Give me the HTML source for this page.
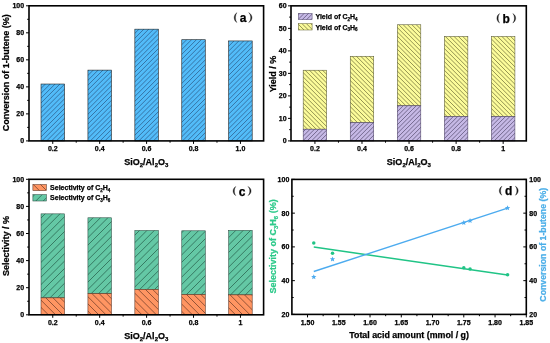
<!DOCTYPE html><html><head><meta charset="utf-8"><style>html,body{margin:0;padding:0;background:#fff;}svg{display:block;will-change:transform;}text{font-family:"Liberation Sans",sans-serif;stroke-width:0.25px;}</style></head><body>
<svg width="550" height="343" viewBox="0 0 550 343">
<rect width="550" height="343" fill="#fff"/>
<clipPath id="c1"><rect x="41.01" y="84.02" width="23.50" height="56.88"/></clipPath>
<rect x="41.01" y="84.02" width="23.50" height="56.88" fill="#52BCF9"/>
<path clip-path="url(#c1)" d="M-17.35 141.90L41.53 83.02M-12.50 141.90L46.38 83.02M-7.65 141.90L51.23 83.02M-2.80 141.90L56.08 83.02M2.05 141.90L60.93 83.02M6.90 141.90L65.78 83.02M11.75 141.90L70.63 83.02M16.60 141.90L75.48 83.02M21.45 141.90L80.33 83.02M26.30 141.90L85.18 83.02M31.15 141.90L90.03 83.02M36.00 141.90L94.88 83.02M40.85 141.90L99.73 83.02M45.70 141.90L104.58 83.02M50.55 141.90L109.43 83.02M55.40 141.90L114.28 83.02M60.25 141.90L119.13 83.02M65.10 141.90L123.98 83.02" stroke="#336c9c" stroke-width="0.9" fill="none"/>
<rect x="41.01" y="84.02" width="23.50" height="56.88" fill="none" stroke="#222" stroke-width="0.6"/>
<clipPath id="c2"><rect x="87.93" y="70.11" width="23.50" height="70.79"/></clipPath>
<rect x="87.93" y="70.11" width="23.50" height="70.79" fill="#52BCF9"/>
<path clip-path="url(#c2)" d="M11.75 141.90L84.54 69.11M16.60 141.90L89.39 69.11M21.45 141.90L94.24 69.11M26.30 141.90L99.09 69.11M31.15 141.90L103.94 69.11M36.00 141.90L108.79 69.11M40.85 141.90L113.64 69.11M45.70 141.90L118.49 69.11M50.55 141.90L123.34 69.11M55.40 141.90L128.19 69.11M60.25 141.90L133.04 69.11M65.10 141.90L137.89 69.11M69.95 141.90L142.74 69.11M74.80 141.90L147.59 69.11M79.65 141.90L152.44 69.11M84.50 141.90L157.29 69.11M89.35 141.90L162.14 69.11M94.20 141.90L166.99 69.11M99.05 141.90L171.84 69.11M103.90 141.90L176.69 69.11M108.75 141.90L181.54 69.11M113.60 141.90L186.39 69.11" stroke="#336c9c" stroke-width="0.9" fill="none"/>
<rect x="87.93" y="70.11" width="23.50" height="70.79" fill="none" stroke="#222" stroke-width="0.6"/>
<clipPath id="c3"><rect x="134.85" y="29.17" width="23.50" height="111.73"/></clipPath>
<rect x="134.85" y="29.17" width="23.50" height="111.73" fill="#52BCF9"/>
<path clip-path="url(#c3)" d="M21.45 141.90L135.18 28.17M26.30 141.90L140.03 28.17M31.15 141.90L144.88 28.17M36.00 141.90L149.73 28.17M40.85 141.90L154.58 28.17M45.70 141.90L159.43 28.17M50.55 141.90L164.28 28.17M55.40 141.90L169.13 28.17M60.25 141.90L173.98 28.17M65.10 141.90L178.83 28.17M69.95 141.90L183.68 28.17M74.80 141.90L188.53 28.17M79.65 141.90L193.38 28.17M84.50 141.90L198.23 28.17M89.35 141.90L203.08 28.17M94.20 141.90L207.93 28.17M99.05 141.90L212.78 28.17M103.90 141.90L217.63 28.17M108.75 141.90L222.48 28.17M113.60 141.90L227.33 28.17M118.45 141.90L232.18 28.17M123.30 141.90L237.03 28.17M128.15 141.90L241.88 28.17M133.00 141.90L246.73 28.17M137.85 141.90L251.58 28.17M142.70 141.90L256.43 28.17M147.55 141.90L261.28 28.17M152.40 141.90L266.13 28.17M157.25 141.90L270.98 28.17M162.10 141.90L275.83 28.17" stroke="#336c9c" stroke-width="0.9" fill="none"/>
<rect x="134.85" y="29.17" width="23.50" height="111.73" fill="none" stroke="#222" stroke-width="0.6"/>
<clipPath id="c4"><rect x="181.77" y="39.71" width="23.50" height="101.19"/></clipPath>
<rect x="181.77" y="39.71" width="23.50" height="101.19" fill="#52BCF9"/>
<path clip-path="url(#c4)" d="M74.80 141.90L177.99 38.71M79.65 141.90L182.84 38.71M84.50 141.90L187.69 38.71M89.35 141.90L192.54 38.71M94.20 141.90L197.39 38.71M99.05 141.90L202.24 38.71M103.90 141.90L207.09 38.71M108.75 141.90L211.94 38.71M113.60 141.90L216.79 38.71M118.45 141.90L221.64 38.71M123.30 141.90L226.49 38.71M128.15 141.90L231.34 38.71M133.00 141.90L236.19 38.71M137.85 141.90L241.04 38.71M142.70 141.90L245.89 38.71M147.55 141.90L250.74 38.71M152.40 141.90L255.59 38.71M157.25 141.90L260.44 38.71M162.10 141.90L265.29 38.71M166.95 141.90L270.14 38.71M171.80 141.90L274.99 38.71M176.65 141.90L279.84 38.71M181.50 141.90L284.69 38.71M186.35 141.90L289.54 38.71M191.20 141.90L294.39 38.71M196.05 141.90L299.24 38.71M200.90 141.90L304.09 38.71M205.75 141.90L308.94 38.71" stroke="#336c9c" stroke-width="0.9" fill="none"/>
<rect x="181.77" y="39.71" width="23.50" height="101.19" fill="none" stroke="#222" stroke-width="0.6"/>
<clipPath id="c5"><rect x="228.69" y="40.93" width="23.50" height="99.97"/></clipPath>
<rect x="228.69" y="40.93" width="23.50" height="99.97" fill="#52BCF9"/>
<path clip-path="url(#c5)" d="M123.30 141.90L225.27 39.93M128.15 141.90L230.12 39.93M133.00 141.90L234.97 39.93M137.85 141.90L239.82 39.93M142.70 141.90L244.67 39.93M147.55 141.90L249.52 39.93M152.40 141.90L254.37 39.93M157.25 141.90L259.22 39.93M162.10 141.90L264.07 39.93M166.95 141.90L268.92 39.93M171.80 141.90L273.77 39.93M176.65 141.90L278.62 39.93M181.50 141.90L283.47 39.93M186.35 141.90L288.32 39.93M191.20 141.90L293.17 39.93M196.05 141.90L298.02 39.93M200.90 141.90L302.87 39.93M205.75 141.90L307.72 39.93M210.60 141.90L312.57 39.93M215.45 141.90L317.42 39.93M220.30 141.90L322.27 39.93M225.15 141.90L327.12 39.93M230.00 141.90L331.97 39.93M234.85 141.90L336.82 39.93M239.70 141.90L341.67 39.93M244.55 141.90L346.52 39.93M249.40 141.90L351.37 39.93M254.25 141.90L356.22 39.93" stroke="#336c9c" stroke-width="0.9" fill="none"/>
<rect x="228.69" y="40.93" width="23.50" height="99.97" fill="none" stroke="#222" stroke-width="0.6"/>
<rect x="29" y="5.8" width="234.60000000000002" height="135.1" fill="none" stroke="#000" stroke-width="1.6"/>
<line x1="29" y1="140.90" x2="26.00" y2="140.90" stroke="#000" stroke-width="1.0"/>
<text x="24.10" y="143.35" font-size="7" font-weight="bold" text-anchor="end" fill="#000" stroke="#000" >0</text>
<line x1="29" y1="127.39" x2="27.20" y2="127.39" stroke="#000" stroke-width="1.0"/>
<line x1="29" y1="113.88" x2="26.00" y2="113.88" stroke="#000" stroke-width="1.0"/>
<text x="24.10" y="116.33" font-size="7" font-weight="bold" text-anchor="end" fill="#000" stroke="#000" >20</text>
<line x1="29" y1="100.37" x2="27.20" y2="100.37" stroke="#000" stroke-width="1.0"/>
<line x1="29" y1="86.86" x2="26.00" y2="86.86" stroke="#000" stroke-width="1.0"/>
<text x="24.10" y="89.31" font-size="7" font-weight="bold" text-anchor="end" fill="#000" stroke="#000" >40</text>
<line x1="29" y1="73.35" x2="27.20" y2="73.35" stroke="#000" stroke-width="1.0"/>
<line x1="29" y1="59.84" x2="26.00" y2="59.84" stroke="#000" stroke-width="1.0"/>
<text x="24.10" y="62.29" font-size="7" font-weight="bold" text-anchor="end" fill="#000" stroke="#000" >60</text>
<line x1="29" y1="46.33" x2="27.20" y2="46.33" stroke="#000" stroke-width="1.0"/>
<line x1="29" y1="32.82" x2="26.00" y2="32.82" stroke="#000" stroke-width="1.0"/>
<text x="24.10" y="35.27" font-size="7" font-weight="bold" text-anchor="end" fill="#000" stroke="#000" >80</text>
<line x1="29" y1="19.31" x2="27.20" y2="19.31" stroke="#000" stroke-width="1.0"/>
<line x1="29" y1="5.80" x2="26.00" y2="5.80" stroke="#000" stroke-width="1.0"/>
<text x="24.10" y="8.25" font-size="7" font-weight="bold" text-anchor="end" fill="#000" stroke="#000" >100</text>
<line x1="52.76" y1="140.9" x2="52.76" y2="143.9" stroke="#000" stroke-width="1.0"/>
<text x="52.76" y="151" font-size="7" font-weight="bold" text-anchor="middle" fill="#000" stroke="#000" >0.2</text>
<line x1="99.68" y1="140.9" x2="99.68" y2="143.9" stroke="#000" stroke-width="1.0"/>
<text x="99.68" y="151" font-size="7" font-weight="bold" text-anchor="middle" fill="#000" stroke="#000" >0.4</text>
<line x1="76.22" y1="140.9" x2="76.22" y2="142.70000000000002" stroke="#000" stroke-width="1.0"/>
<line x1="146.60" y1="140.9" x2="146.60" y2="143.9" stroke="#000" stroke-width="1.0"/>
<text x="146.60" y="151" font-size="7" font-weight="bold" text-anchor="middle" fill="#000" stroke="#000" >0.6</text>
<line x1="123.14" y1="140.9" x2="123.14" y2="142.70000000000002" stroke="#000" stroke-width="1.0"/>
<line x1="193.52" y1="140.9" x2="193.52" y2="143.9" stroke="#000" stroke-width="1.0"/>
<text x="193.52" y="151" font-size="7" font-weight="bold" text-anchor="middle" fill="#000" stroke="#000" >0.8</text>
<line x1="170.06" y1="140.9" x2="170.06" y2="142.70000000000002" stroke="#000" stroke-width="1.0"/>
<line x1="240.44" y1="140.9" x2="240.44" y2="143.9" stroke="#000" stroke-width="1.0"/>
<text x="240.44" y="151" font-size="7" font-weight="bold" text-anchor="middle" fill="#000" stroke="#000" >1.0</text>
<line x1="216.98" y1="140.9" x2="216.98" y2="142.70000000000002" stroke="#000" stroke-width="1.0"/>
<text x="146.3" y="165.2" font-size="9" font-weight="bold" text-anchor="middle" fill="#000" stroke="#000" >SiO<tspan font-size="6" dy="1.9">2</tspan><tspan dy="-1.9">&#8203;</tspan>/Al<tspan font-size="6" dy="1.9">2</tspan><tspan dy="-1.9">&#8203;</tspan>O<tspan font-size="6" dy="1.9">3</tspan><tspan dy="-1.9">&#8203;</tspan></text>
<text transform="translate(9.3,72.7) rotate(-90)" font-size="9" font-weight="bold" text-anchor="middle" stroke="#000">Conversion of 1-butene (%)</text>
<path d="M236.90 12.70C233.30 14.86 233.30 20.34 236.90 22.50C235.00 20.34 235.00 14.86 236.90 12.70Z" fill="#1a1a1a" stroke="#1a1a1a" stroke-width="0.35"/>
<path d="M248.70 12.70C253.10 14.86 253.10 20.34 248.70 22.50C251.40 20.34 251.40 14.86 248.70 12.70Z" fill="#1a1a1a" stroke="#1a1a1a" stroke-width="0.35"/>
<text x="243.05" y="21.8" font-size="12" font-weight="bold" text-anchor="middle" stroke="#000" stroke-width="0.15">a</text>
<clipPath id="c6"><rect x="303.18" y="70.22" width="23.50" height="58.97"/></clipPath>
<rect x="303.18" y="70.22" width="23.50" height="58.97" fill="#FCFC9A"/>
<path clip-path="url(#c6)" d="M238.87 69.22L299.85 130.20M243.22 69.22L304.20 130.20M247.57 69.22L308.55 130.20M251.92 69.22L312.90 130.20M256.27 69.22L317.25 130.20M260.62 69.22L321.60 130.20M264.97 69.22L325.95 130.20M269.32 69.22L330.30 130.20M273.67 69.22L334.65 130.20M278.02 69.22L339.00 130.20M282.37 69.22L343.35 130.20M286.72 69.22L347.70 130.20M291.07 69.22L352.05 130.20M295.42 69.22L356.40 130.20M299.77 69.22L360.75 130.20M304.12 69.22L365.10 130.20M308.47 69.22L369.45 130.20M312.82 69.22L373.80 130.20M317.17 69.22L378.15 130.20M321.52 69.22L382.50 130.20M325.87 69.22L386.85 130.20" stroke="#7f7f45" stroke-width="0.85" fill="none"/>
<rect x="303.18" y="70.22" width="23.50" height="58.97" fill="none" stroke="#55553a" stroke-width="0.55"/>
<clipPath id="c7"><rect x="303.18" y="129.20" width="23.50" height="11.70"/></clipPath>
<rect x="303.18" y="129.20" width="23.50" height="11.70" fill="#C6B9E6"/>
<path clip-path="url(#c7)" d="M288.75 141.90L302.45 128.20M293.10 141.90L306.80 128.20M297.45 141.90L311.15 128.20M301.80 141.90L315.50 128.20M306.15 141.90L319.85 128.20M310.50 141.90L324.20 128.20M314.85 141.90L328.55 128.20M319.20 141.90L332.90 128.20M323.55 141.90L337.25 128.20M327.90 141.90L341.60 128.20" stroke="#5f5578" stroke-width="0.8" fill="none"/>
<rect x="303.18" y="129.20" width="23.50" height="11.70" fill="none" stroke="#4a4060" stroke-width="0.55"/>
<clipPath id="c8"><rect x="350.24" y="56.27" width="23.50" height="66.40"/></clipPath>
<rect x="350.24" y="56.27" width="23.50" height="66.40" fill="#FCFC9A"/>
<path clip-path="url(#c8)" d="M281.47 55.27L349.87 123.67M285.82 55.27L354.22 123.67M290.17 55.27L358.57 123.67M294.52 55.27L362.92 123.67M298.87 55.27L367.27 123.67M303.22 55.27L371.62 123.67M307.57 55.27L375.97 123.67M311.92 55.27L380.32 123.67M316.27 55.27L384.67 123.67M320.62 55.27L389.02 123.67M324.97 55.27L393.37 123.67M329.32 55.27L397.72 123.67M333.67 55.27L402.07 123.67M338.02 55.27L406.42 123.67M342.37 55.27L410.77 123.67M346.72 55.27L415.12 123.67M351.07 55.27L419.47 123.67M355.42 55.27L423.82 123.67M359.77 55.27L428.17 123.67M364.12 55.27L432.52 123.67M368.47 55.27L436.87 123.67M372.82 55.27L441.22 123.67" stroke="#7f7f45" stroke-width="0.85" fill="none"/>
<rect x="350.24" y="56.27" width="23.50" height="66.40" fill="none" stroke="#55553a" stroke-width="0.55"/>
<clipPath id="c9"><rect x="350.24" y="122.67" width="23.50" height="18.23"/></clipPath>
<rect x="350.24" y="122.67" width="23.50" height="18.23" fill="#C6B9E6"/>
<path clip-path="url(#c9)" d="M327.90 141.90L348.13 121.67M332.25 141.90L352.48 121.67M336.60 141.90L356.83 121.67M340.95 141.90L361.18 121.67M345.30 141.90L365.53 121.67M349.65 141.90L369.88 121.67M354.00 141.90L374.23 121.67M358.35 141.90L378.58 121.67M362.70 141.90L382.93 121.67M367.05 141.90L387.28 121.67M371.40 141.90L391.63 121.67M375.75 141.90L395.98 121.67" stroke="#5f5578" stroke-width="0.8" fill="none"/>
<rect x="350.24" y="122.67" width="23.50" height="18.23" fill="none" stroke="#4a4060" stroke-width="0.55"/>
<clipPath id="c10"><rect x="397.30" y="24.76" width="23.50" height="81.03"/></clipPath>
<rect x="397.30" y="24.76" width="23.50" height="81.03" fill="#FCFC9A"/>
<path clip-path="url(#c10)" d="M315.21 23.76L398.24 106.79M319.56 23.76L402.59 106.79M323.91 23.76L406.94 106.79M328.26 23.76L411.29 106.79M332.61 23.76L415.64 106.79M336.96 23.76L419.99 106.79M341.31 23.76L424.34 106.79M345.66 23.76L428.69 106.79M350.01 23.76L433.04 106.79M354.36 23.76L437.39 106.79M358.71 23.76L441.74 106.79M363.06 23.76L446.09 106.79M367.41 23.76L450.44 106.79M371.76 23.76L454.79 106.79M376.11 23.76L459.14 106.79M380.46 23.76L463.49 106.79M384.81 23.76L467.84 106.79M389.16 23.76L472.19 106.79M393.51 23.76L476.54 106.79M397.86 23.76L480.89 106.79M402.21 23.76L485.24 106.79M406.56 23.76L489.59 106.79M410.91 23.76L493.94 106.79M415.26 23.76L498.29 106.79M419.61 23.76L502.64 106.79M423.96 23.76L506.99 106.79" stroke="#7f7f45" stroke-width="0.85" fill="none"/>
<rect x="397.30" y="24.76" width="23.50" height="81.03" fill="none" stroke="#55553a" stroke-width="0.55"/>
<clipPath id="c11"><rect x="397.30" y="105.79" width="23.50" height="35.11"/></clipPath>
<rect x="397.30" y="105.79" width="23.50" height="35.11" fill="#C6B9E6"/>
<path clip-path="url(#c11)" d="M358.35 141.90L395.46 104.79M362.70 141.90L399.81 104.79M367.05 141.90L404.16 104.79M371.40 141.90L408.51 104.79M375.75 141.90L412.86 104.79M380.10 141.90L417.21 104.79M384.45 141.90L421.56 104.79M388.80 141.90L425.91 104.79M393.15 141.90L430.26 104.79M397.50 141.90L434.61 104.79M401.85 141.90L438.96 104.79M406.20 141.90L443.31 104.79M410.55 141.90L447.66 104.79M414.90 141.90L452.01 104.79M419.25 141.90L456.36 104.79M423.60 141.90L460.71 104.79" stroke="#5f5578" stroke-width="0.8" fill="none"/>
<rect x="397.30" y="105.79" width="23.50" height="35.11" fill="none" stroke="#4a4060" stroke-width="0.55"/>
<clipPath id="c12"><rect x="444.36" y="36.46" width="23.50" height="80.13"/></clipPath>
<rect x="444.36" y="36.46" width="23.50" height="80.13" fill="#FCFC9A"/>
<path clip-path="url(#c12)" d="M361.71 35.46L443.84 117.59M366.06 35.46L448.19 117.59M370.41 35.46L452.54 117.59M374.76 35.46L456.89 117.59M379.11 35.46L461.24 117.59M383.46 35.46L465.59 117.59M387.81 35.46L469.94 117.59M392.16 35.46L474.29 117.59M396.51 35.46L478.64 117.59M400.86 35.46L482.99 117.59M405.21 35.46L487.34 117.59M409.56 35.46L491.69 117.59M413.91 35.46L496.04 117.59M418.26 35.46L500.39 117.59M422.61 35.46L504.74 117.59M426.96 35.46L509.09 117.59M431.31 35.46L513.44 117.59M435.66 35.46L517.79 117.59M440.01 35.46L522.14 117.59M444.36 35.46L526.49 117.59M448.71 35.46L530.84 117.59M453.06 35.46L535.19 117.59M457.41 35.46L539.54 117.59M461.76 35.46L543.89 117.59M466.11 35.46L548.24 117.59M470.46 35.46L552.59 117.59" stroke="#7f7f45" stroke-width="0.85" fill="none"/>
<rect x="444.36" y="36.46" width="23.50" height="80.13" fill="none" stroke="#55553a" stroke-width="0.55"/>
<clipPath id="c13"><rect x="444.36" y="116.59" width="23.50" height="24.31"/></clipPath>
<rect x="444.36" y="116.59" width="23.50" height="24.31" fill="#C6B9E6"/>
<path clip-path="url(#c13)" d="M414.90 141.90L441.21 115.59M419.25 141.90L445.56 115.59M423.60 141.90L449.91 115.59M427.95 141.90L454.26 115.59M432.30 141.90L458.61 115.59M436.65 141.90L462.96 115.59M441.00 141.90L467.31 115.59M445.35 141.90L471.66 115.59M449.70 141.90L476.01 115.59M454.05 141.90L480.36 115.59M458.40 141.90L484.71 115.59M462.75 141.90L489.06 115.59M467.10 141.90L493.41 115.59" stroke="#5f5578" stroke-width="0.8" fill="none"/>
<rect x="444.36" y="116.59" width="23.50" height="24.31" fill="none" stroke="#4a4060" stroke-width="0.55"/>
<clipPath id="c14"><rect x="491.42" y="36.46" width="23.50" height="80.13"/></clipPath>
<rect x="491.42" y="36.46" width="23.50" height="80.13" fill="#FCFC9A"/>
<path clip-path="url(#c14)" d="M409.56 35.46L491.69 117.59M413.91 35.46L496.04 117.59M418.26 35.46L500.39 117.59M422.61 35.46L504.74 117.59M426.96 35.46L509.09 117.59M431.31 35.46L513.44 117.59M435.66 35.46L517.79 117.59M440.01 35.46L522.14 117.59M444.36 35.46L526.49 117.59M448.71 35.46L530.84 117.59M453.06 35.46L535.19 117.59M457.41 35.46L539.54 117.59M461.76 35.46L543.89 117.59M466.11 35.46L548.24 117.59M470.46 35.46L552.59 117.59M474.81 35.46L556.94 117.59M479.16 35.46L561.29 117.59M483.51 35.46L565.64 117.59M487.86 35.46L569.99 117.59M492.21 35.46L574.34 117.59M496.56 35.46L578.69 117.59M500.91 35.46L583.04 117.59M505.26 35.46L587.39 117.59M509.61 35.46L591.74 117.59M513.96 35.46L596.09 117.59" stroke="#7f7f45" stroke-width="0.85" fill="none"/>
<rect x="491.42" y="36.46" width="23.50" height="80.13" fill="none" stroke="#55553a" stroke-width="0.55"/>
<clipPath id="c15"><rect x="491.42" y="116.59" width="23.50" height="24.31"/></clipPath>
<rect x="491.42" y="116.59" width="23.50" height="24.31" fill="#C6B9E6"/>
<path clip-path="url(#c15)" d="M462.75 141.90L489.06 115.59M467.10 141.90L493.41 115.59M471.45 141.90L497.76 115.59M475.80 141.90L502.11 115.59M480.15 141.90L506.46 115.59M484.50 141.90L510.81 115.59M488.85 141.90L515.16 115.59M493.20 141.90L519.51 115.59M497.55 141.90L523.86 115.59M501.90 141.90L528.21 115.59M506.25 141.90L532.56 115.59M510.60 141.90L536.91 115.59M514.95 141.90L541.26 115.59" stroke="#5f5578" stroke-width="0.8" fill="none"/>
<rect x="491.42" y="116.59" width="23.50" height="24.31" fill="none" stroke="#4a4060" stroke-width="0.55"/>
<rect x="291.0" y="5.85" width="235.29999999999995" height="135.05" fill="none" stroke="#000" stroke-width="1.6"/>
<line x1="291.0" y1="140.90" x2="288.00" y2="140.90" stroke="#000" stroke-width="1.0"/>
<text x="286.60" y="143.35" font-size="7" font-weight="bold" text-anchor="end" fill="#000" stroke="#000" >0</text>
<line x1="291.0" y1="129.65" x2="289.20" y2="129.65" stroke="#000" stroke-width="1.0"/>
<line x1="291.0" y1="118.39" x2="288.00" y2="118.39" stroke="#000" stroke-width="1.0"/>
<text x="286.60" y="120.84" font-size="7" font-weight="bold" text-anchor="end" fill="#000" stroke="#000" >10</text>
<line x1="291.0" y1="107.14" x2="289.20" y2="107.14" stroke="#000" stroke-width="1.0"/>
<line x1="291.0" y1="95.88" x2="288.00" y2="95.88" stroke="#000" stroke-width="1.0"/>
<text x="286.60" y="98.33" font-size="7" font-weight="bold" text-anchor="end" fill="#000" stroke="#000" >20</text>
<line x1="291.0" y1="84.63" x2="289.20" y2="84.63" stroke="#000" stroke-width="1.0"/>
<line x1="291.0" y1="73.38" x2="288.00" y2="73.38" stroke="#000" stroke-width="1.0"/>
<text x="286.60" y="75.83" font-size="7" font-weight="bold" text-anchor="end" fill="#000" stroke="#000" >30</text>
<line x1="291.0" y1="62.12" x2="289.20" y2="62.12" stroke="#000" stroke-width="1.0"/>
<line x1="291.0" y1="50.87" x2="288.00" y2="50.87" stroke="#000" stroke-width="1.0"/>
<text x="286.60" y="53.32" font-size="7" font-weight="bold" text-anchor="end" fill="#000" stroke="#000" >40</text>
<line x1="291.0" y1="39.61" x2="289.20" y2="39.61" stroke="#000" stroke-width="1.0"/>
<line x1="291.0" y1="28.36" x2="288.00" y2="28.36" stroke="#000" stroke-width="1.0"/>
<text x="286.60" y="30.81" font-size="7" font-weight="bold" text-anchor="end" fill="#000" stroke="#000" >50</text>
<line x1="291.0" y1="17.10" x2="289.20" y2="17.10" stroke="#000" stroke-width="1.0"/>
<line x1="291.0" y1="5.85" x2="288.00" y2="5.85" stroke="#000" stroke-width="1.0"/>
<text x="286.60" y="8.30" font-size="7" font-weight="bold" text-anchor="end" fill="#000" stroke="#000" >60</text>
<line x1="314.93" y1="140.9" x2="314.93" y2="143.9" stroke="#000" stroke-width="1.0"/>
<text x="314.93" y="151" font-size="7" font-weight="bold" text-anchor="middle" fill="#000" stroke="#000" >0.2</text>
<line x1="361.99" y1="140.9" x2="361.99" y2="143.9" stroke="#000" stroke-width="1.0"/>
<text x="361.99" y="151" font-size="7" font-weight="bold" text-anchor="middle" fill="#000" stroke="#000" >0.4</text>
<line x1="338.46" y1="140.9" x2="338.46" y2="142.70000000000002" stroke="#000" stroke-width="1.0"/>
<line x1="409.05" y1="140.9" x2="409.05" y2="143.9" stroke="#000" stroke-width="1.0"/>
<text x="409.05" y="151" font-size="7" font-weight="bold" text-anchor="middle" fill="#000" stroke="#000" >0.6</text>
<line x1="385.52" y1="140.9" x2="385.52" y2="142.70000000000002" stroke="#000" stroke-width="1.0"/>
<line x1="456.11" y1="140.9" x2="456.11" y2="143.9" stroke="#000" stroke-width="1.0"/>
<text x="456.11" y="151" font-size="7" font-weight="bold" text-anchor="middle" fill="#000" stroke="#000" >0.8</text>
<line x1="432.58" y1="140.9" x2="432.58" y2="142.70000000000002" stroke="#000" stroke-width="1.0"/>
<line x1="503.17" y1="140.9" x2="503.17" y2="143.9" stroke="#000" stroke-width="1.0"/>
<text x="503.17" y="151" font-size="7" font-weight="bold" text-anchor="middle" fill="#000" stroke="#000" >1</text>
<line x1="479.64" y1="140.9" x2="479.64" y2="142.70000000000002" stroke="#000" stroke-width="1.0"/>
<text x="408.9" y="165.2" font-size="9" font-weight="bold" text-anchor="middle" fill="#000" stroke="#000" >SiO<tspan font-size="6" dy="1.9">2</tspan><tspan dy="-1.9">&#8203;</tspan>/Al<tspan font-size="6" dy="1.9">2</tspan><tspan dy="-1.9">&#8203;</tspan>O<tspan font-size="6" dy="1.9">3</tspan><tspan dy="-1.9">&#8203;</tspan></text>
<text transform="translate(275.8,74.0) rotate(-90)" font-size="9" font-weight="bold" text-anchor="middle" stroke="#000">Yield / %</text>
<clipPath id="c16"><rect x="298.30" y="13.30" width="13.80" height="6.40"/></clipPath>
<rect x="298.30" y="13.30" width="13.80" height="6.40" fill="#C6B9E6"/>
<path clip-path="url(#c16)" d="M288.15 20.70L296.55 12.30M292.50 20.70L300.90 12.30M296.85 20.70L305.25 12.30M301.20 20.70L309.60 12.30M305.55 20.70L313.95 12.30M309.90 20.70L318.30 12.30M314.25 20.70L322.65 12.30" stroke="#5f5578" stroke-width="0.8" fill="none"/>
<rect x="298.30" y="13.30" width="13.80" height="6.40" fill="none" stroke="#5a5070" stroke-width="0.55"/>
<clipPath id="c17"><rect x="298.30" y="23.70" width="13.80" height="6.30"/></clipPath>
<rect x="298.30" y="23.70" width="13.80" height="6.30" fill="#FCFC9A"/>
<path clip-path="url(#c17)" d="M288.05 22.70L296.35 31.00M292.40 22.70L300.70 31.00M296.75 22.70L305.05 31.00M301.10 22.70L309.40 31.00M305.45 22.70L313.75 31.00M309.80 22.70L318.10 31.00M314.15 22.70L322.45 31.00" stroke="#7f7f45" stroke-width="0.85" fill="none"/>
<rect x="298.30" y="23.70" width="13.80" height="6.30" fill="none" stroke="#6a6a3a" stroke-width="0.55"/>
<text x="315.5" y="19.2" font-size="7" font-weight="bold" text-anchor="start" fill="#000" stroke="#000" >Yield of C<tspan font-size="4.5" dy="1.5">2</tspan><tspan dy="-1.5">&#8203;</tspan>H<tspan font-size="4.5" dy="1.5">4</tspan><tspan dy="-1.5">&#8203;</tspan></text>
<text x="315.5" y="29.6" font-size="7" font-weight="bold" text-anchor="start" fill="#000" stroke="#000" >Yield of C<tspan font-size="4.5" dy="1.5">3</tspan><tspan dy="-1.5">&#8203;</tspan>H<tspan font-size="4.5" dy="1.5">6</tspan><tspan dy="-1.5">&#8203;</tspan></text>
<path d="M499.60 13.60C496.00 15.67 496.00 20.93 499.60 23.00C497.70 20.93 497.70 15.67 499.60 13.60Z" fill="#1a1a1a" stroke="#1a1a1a" stroke-width="0.35"/>
<path d="M512.80 13.60C516.67 15.67 516.67 20.93 512.80 23.00C514.97 20.93 514.97 15.67 512.80 13.60Z" fill="#1a1a1a" stroke="#1a1a1a" stroke-width="0.35"/>
<text x="506.25" y="23.3" font-size="12" font-weight="bold" text-anchor="middle" stroke="#000" stroke-width="0.15">b</text>
<clipPath id="c18"><rect x="41.01" y="213.85" width="23.50" height="84.01"/></clipPath>
<rect x="41.01" y="213.85" width="23.50" height="84.01" fill="#64C8A5"/>
<path clip-path="url(#c18)" d="M-47.26 298.86L38.75 212.85M-39.86 298.86L46.15 212.85M-32.46 298.86L53.55 212.85M-25.06 298.86L60.95 212.85M-17.66 298.86L68.35 212.85M-10.26 298.86L75.75 212.85M-2.86 298.86L83.15 212.85M4.54 298.86L90.55 212.85M11.94 298.86L97.95 212.85M19.34 298.86L105.35 212.85M26.74 298.86L112.75 212.85M34.14 298.86L120.15 212.85M41.54 298.86L127.55 212.85M48.94 298.86L134.95 212.85M56.34 298.86L142.35 212.85M63.74 298.86L149.75 212.85" stroke="#1f5040" stroke-width="0.65" fill="none"/>
<rect x="41.01" y="213.85" width="23.50" height="84.01" fill="none" stroke="#2a4a40" stroke-width="0.55"/>
<clipPath id="c19"><rect x="41.01" y="297.86" width="23.50" height="16.94"/></clipPath>
<rect x="41.01" y="297.86" width="23.50" height="16.94" fill="#FF9562"/>
<path clip-path="url(#c19)" d="M16.06 296.86L35.00 315.80M23.26 296.86L42.20 315.80M30.46 296.86L49.40 315.80M37.66 296.86L56.60 315.80M44.86 296.86L63.80 315.80M52.06 296.86L71.00 315.80M59.26 296.86L78.20 315.80M66.46 296.86L85.40 315.80" stroke="#5a3020" stroke-width="0.65" fill="none"/>
<rect x="41.01" y="297.86" width="23.50" height="16.94" fill="none" stroke="#5a3020" stroke-width="0.55"/>
<clipPath id="c20"><rect x="87.93" y="217.78" width="23.50" height="75.88"/></clipPath>
<rect x="87.93" y="217.78" width="23.50" height="75.88" fill="#64C8A5"/>
<path clip-path="url(#c20)" d="M8.74 294.66L86.62 216.78M16.14 294.66L94.02 216.78M23.54 294.66L101.42 216.78M30.94 294.66L108.82 216.78M38.34 294.66L116.22 216.78M45.74 294.66L123.62 216.78M53.14 294.66L131.02 216.78M60.54 294.66L138.42 216.78M67.94 294.66L145.82 216.78M75.34 294.66L153.22 216.78M82.74 294.66L160.62 216.78M90.14 294.66L168.02 216.78M97.54 294.66L175.42 216.78M104.94 294.66L182.82 216.78M112.34 294.66L190.22 216.78" stroke="#1f5040" stroke-width="0.65" fill="none"/>
<rect x="87.93" y="217.78" width="23.50" height="75.88" fill="none" stroke="#2a4a40" stroke-width="0.55"/>
<clipPath id="c21"><rect x="87.93" y="293.66" width="23.50" height="21.14"/></clipPath>
<rect x="87.93" y="293.66" width="23.50" height="21.14" fill="#FF9562"/>
<path clip-path="url(#c21)" d="M62.26 292.66L85.40 315.80M69.46 292.66L92.60 315.80M76.66 292.66L99.80 315.80M83.86 292.66L107.00 315.80M91.06 292.66L114.20 315.80M98.26 292.66L121.40 315.80M105.46 292.66L128.60 315.80M112.66 292.66L135.80 315.80" stroke="#5a3020" stroke-width="0.65" fill="none"/>
<rect x="87.93" y="293.66" width="23.50" height="21.14" fill="none" stroke="#5a3020" stroke-width="0.55"/>
<clipPath id="c22"><rect x="134.85" y="230.52" width="23.50" height="58.94"/></clipPath>
<rect x="134.85" y="230.52" width="23.50" height="58.94" fill="#64C8A5"/>
<path clip-path="url(#c22)" d="M72.14 290.46L133.08 229.52M79.54 290.46L140.48 229.52M86.94 290.46L147.88 229.52M94.34 290.46L155.28 229.52M101.74 290.46L162.68 229.52M109.14 290.46L170.08 229.52M116.54 290.46L177.48 229.52M123.94 290.46L184.88 229.52M131.34 290.46L192.28 229.52M138.74 290.46L199.68 229.52M146.14 290.46L207.08 229.52M153.54 290.46L214.48 229.52M160.94 290.46L221.88 229.52" stroke="#1f5040" stroke-width="0.65" fill="none"/>
<rect x="134.85" y="230.52" width="23.50" height="58.94" fill="none" stroke="#2a4a40" stroke-width="0.55"/>
<clipPath id="c23"><rect x="134.85" y="289.46" width="23.50" height="25.34"/></clipPath>
<rect x="134.85" y="289.46" width="23.50" height="25.34" fill="#FF9562"/>
<path clip-path="url(#c23)" d="M108.46 288.46L135.80 315.80M115.66 288.46L143.00 315.80M122.86 288.46L150.20 315.80M130.06 288.46L157.40 315.80M137.26 288.46L164.60 315.80M144.46 288.46L171.80 315.80M151.66 288.46L179.00 315.80M158.86 288.46L186.20 315.80" stroke="#5a3020" stroke-width="0.65" fill="none"/>
<rect x="134.85" y="289.46" width="23.50" height="25.34" fill="none" stroke="#5a3020" stroke-width="0.55"/>
<clipPath id="c24"><rect x="181.77" y="230.79" width="23.50" height="63.82"/></clipPath>
<rect x="181.77" y="230.79" width="23.50" height="63.82" fill="#64C8A5"/>
<path clip-path="url(#c24)" d="M111.39 295.61L177.21 229.79M118.79 295.61L184.61 229.79M126.19 295.61L192.01 229.79M133.59 295.61L199.41 229.79M140.99 295.61L206.81 229.79M148.39 295.61L214.21 229.79M155.79 295.61L221.61 229.79M163.19 295.61L229.01 229.79M170.59 295.61L236.41 229.79M177.99 295.61L243.81 229.79M185.39 295.61L251.21 229.79M192.79 295.61L258.61 229.79M200.19 295.61L266.01 229.79M207.59 295.61L273.41 229.79" stroke="#1f5040" stroke-width="0.65" fill="none"/>
<rect x="181.77" y="230.79" width="23.50" height="63.82" fill="none" stroke="#2a4a40" stroke-width="0.55"/>
<clipPath id="c25"><rect x="181.77" y="294.61" width="23.50" height="20.19"/></clipPath>
<rect x="181.77" y="294.61" width="23.50" height="20.19" fill="#FF9562"/>
<path clip-path="url(#c25)" d="M156.81 293.61L179.00 315.80M164.01 293.61L186.20 315.80M171.21 293.61L193.40 315.80M178.41 293.61L200.60 315.80M185.61 293.61L207.80 315.80M192.81 293.61L215.00 315.80M200.01 293.61L222.20 315.80M207.21 293.61L229.40 315.80" stroke="#5a3020" stroke-width="0.65" fill="none"/>
<rect x="181.77" y="294.61" width="23.50" height="20.19" fill="none" stroke="#5a3020" stroke-width="0.55"/>
<clipPath id="c26"><rect x="228.69" y="230.38" width="23.50" height="64.50"/></clipPath>
<rect x="228.69" y="230.38" width="23.50" height="64.50" fill="#64C8A5"/>
<path clip-path="url(#c26)" d="M162.92 295.88L229.42 229.38M170.32 295.88L236.82 229.38M177.72 295.88L244.22 229.38M185.12 295.88L251.62 229.38M192.52 295.88L259.02 229.38M199.92 295.88L266.42 229.38M207.32 295.88L273.82 229.38M214.72 295.88L281.22 229.38M222.12 295.88L288.62 229.38M229.52 295.88L296.02 229.38M236.92 295.88L303.42 229.38M244.32 295.88L310.82 229.38M251.72 295.88L318.22 229.38" stroke="#1f5040" stroke-width="0.65" fill="none"/>
<rect x="228.69" y="230.38" width="23.50" height="64.50" fill="none" stroke="#2a4a40" stroke-width="0.55"/>
<clipPath id="c27"><rect x="228.69" y="294.88" width="23.50" height="19.92"/></clipPath>
<rect x="228.69" y="294.88" width="23.50" height="19.92" fill="#FF9562"/>
<path clip-path="url(#c27)" d="M207.48 293.88L229.40 315.80M214.68 293.88L236.60 315.80M221.88 293.88L243.80 315.80M229.08 293.88L251.00 315.80M236.28 293.88L258.20 315.80M243.48 293.88L265.40 315.80M250.68 293.88L272.60 315.80M257.88 293.88L279.80 315.80" stroke="#5a3020" stroke-width="0.65" fill="none"/>
<rect x="228.69" y="294.88" width="23.50" height="19.92" fill="none" stroke="#5a3020" stroke-width="0.55"/>
<rect x="29" y="179.3" width="234.60000000000002" height="135.5" fill="none" stroke="#000" stroke-width="1.6"/>
<line x1="29" y1="314.80" x2="26.00" y2="314.80" stroke="#000" stroke-width="1.0"/>
<text x="24.10" y="317.25" font-size="7" font-weight="bold" text-anchor="end" fill="#000" stroke="#000" >0</text>
<line x1="29" y1="301.25" x2="27.20" y2="301.25" stroke="#000" stroke-width="1.0"/>
<line x1="29" y1="287.70" x2="26.00" y2="287.70" stroke="#000" stroke-width="1.0"/>
<text x="24.10" y="290.15" font-size="7" font-weight="bold" text-anchor="end" fill="#000" stroke="#000" >20</text>
<line x1="29" y1="274.15" x2="27.20" y2="274.15" stroke="#000" stroke-width="1.0"/>
<line x1="29" y1="260.60" x2="26.00" y2="260.60" stroke="#000" stroke-width="1.0"/>
<text x="24.10" y="263.05" font-size="7" font-weight="bold" text-anchor="end" fill="#000" stroke="#000" >40</text>
<line x1="29" y1="247.05" x2="27.20" y2="247.05" stroke="#000" stroke-width="1.0"/>
<line x1="29" y1="233.50" x2="26.00" y2="233.50" stroke="#000" stroke-width="1.0"/>
<text x="24.10" y="235.95" font-size="7" font-weight="bold" text-anchor="end" fill="#000" stroke="#000" >60</text>
<line x1="29" y1="219.95" x2="27.20" y2="219.95" stroke="#000" stroke-width="1.0"/>
<line x1="29" y1="206.40" x2="26.00" y2="206.40" stroke="#000" stroke-width="1.0"/>
<text x="24.10" y="208.85" font-size="7" font-weight="bold" text-anchor="end" fill="#000" stroke="#000" >80</text>
<line x1="29" y1="192.85" x2="27.20" y2="192.85" stroke="#000" stroke-width="1.0"/>
<line x1="29" y1="179.30" x2="26.00" y2="179.30" stroke="#000" stroke-width="1.0"/>
<text x="24.10" y="181.75" font-size="7" font-weight="bold" text-anchor="end" fill="#000" stroke="#000" >100</text>
<line x1="52.76" y1="314.8" x2="52.76" y2="317.8" stroke="#000" stroke-width="1.0"/>
<text x="52.76" y="325.2" font-size="7" font-weight="bold" text-anchor="middle" fill="#000" stroke="#000" >0.2</text>
<line x1="99.68" y1="314.8" x2="99.68" y2="317.8" stroke="#000" stroke-width="1.0"/>
<text x="99.68" y="325.2" font-size="7" font-weight="bold" text-anchor="middle" fill="#000" stroke="#000" >0.4</text>
<line x1="76.22" y1="314.8" x2="76.22" y2="316.6" stroke="#000" stroke-width="1.0"/>
<line x1="146.60" y1="314.8" x2="146.60" y2="317.8" stroke="#000" stroke-width="1.0"/>
<text x="146.60" y="325.2" font-size="7" font-weight="bold" text-anchor="middle" fill="#000" stroke="#000" >0.6</text>
<line x1="123.14" y1="314.8" x2="123.14" y2="316.6" stroke="#000" stroke-width="1.0"/>
<line x1="193.52" y1="314.8" x2="193.52" y2="317.8" stroke="#000" stroke-width="1.0"/>
<text x="193.52" y="325.2" font-size="7" font-weight="bold" text-anchor="middle" fill="#000" stroke="#000" >0.8</text>
<line x1="170.06" y1="314.8" x2="170.06" y2="316.6" stroke="#000" stroke-width="1.0"/>
<line x1="240.44" y1="314.8" x2="240.44" y2="317.8" stroke="#000" stroke-width="1.0"/>
<text x="240.44" y="325.2" font-size="7" font-weight="bold" text-anchor="middle" fill="#000" stroke="#000" >1</text>
<line x1="216.98" y1="314.8" x2="216.98" y2="316.6" stroke="#000" stroke-width="1.0"/>
<text x="146.3" y="339.4" font-size="9" font-weight="bold" text-anchor="middle" fill="#000" stroke="#000" >SiO<tspan font-size="6" dy="1.9">2</tspan><tspan dy="-1.9">&#8203;</tspan>/Al<tspan font-size="6" dy="1.9">2</tspan><tspan dy="-1.9">&#8203;</tspan>O<tspan font-size="6" dy="1.9">3</tspan><tspan dy="-1.9">&#8203;</tspan></text>
<text transform="translate(9.3,246) rotate(-90)" font-size="9" font-weight="bold" text-anchor="middle" stroke="#000">Selectivity / %</text>
<clipPath id="c28"><rect x="32.90" y="184.60" width="13.40" height="6.00"/></clipPath>
<rect x="32.90" y="184.60" width="13.40" height="6.00" fill="#FF9562"/>
<path clip-path="url(#c28)" d="M25.20 183.60L33.20 191.60M32.40 183.60L40.40 191.60M39.60 183.60L47.60 191.60M46.80 183.60L54.80 191.60" stroke="#5a3020" stroke-width="0.65" fill="none"/>
<rect x="32.90" y="184.60" width="13.40" height="6.00" fill="none" stroke="#5a3020" stroke-width="0.55"/>
<clipPath id="c29"><rect x="32.90" y="194.70" width="13.40" height="6.30"/></clipPath>
<rect x="32.90" y="194.70" width="13.40" height="6.30" fill="#64C8A5"/>
<path clip-path="url(#c29)" d="M20.00 202.00L28.30 193.70M27.40 202.00L35.70 193.70M34.80 202.00L43.10 193.70M42.20 202.00L50.50 193.70M49.60 202.00L57.90 193.70" stroke="#1f5040" stroke-width="0.65" fill="none"/>
<rect x="32.90" y="194.70" width="13.40" height="6.30" fill="none" stroke="#2a4a40" stroke-width="0.55"/>
<text x="50.1" y="190.2" font-size="7" font-weight="bold" text-anchor="start" fill="#000" stroke="#000" >Selectivity of C<tspan font-size="4.5" dy="1.5">2</tspan><tspan dy="-1.5">&#8203;</tspan>H<tspan font-size="4.5" dy="1.5">4</tspan><tspan dy="-1.5">&#8203;</tspan></text>
<text x="50.1" y="200.4" font-size="7" font-weight="bold" text-anchor="start" fill="#000" stroke="#000" >Selectivity of C<tspan font-size="4.5" dy="1.5">3</tspan><tspan dy="-1.5">&#8203;</tspan>H<tspan font-size="4.5" dy="1.5">6</tspan><tspan dy="-1.5">&#8203;</tspan></text>
<path d="M235.80 186.50C232.20 188.50 232.20 193.60 235.80 195.60C233.90 193.60 233.90 188.50 235.80 186.50Z" fill="#1a1a1a" stroke="#1a1a1a" stroke-width="0.35"/>
<path d="M247.90 186.50C252.17 188.50 252.17 193.60 247.90 195.60C250.47 193.60 250.47 188.50 247.90 186.50Z" fill="#1a1a1a" stroke="#1a1a1a" stroke-width="0.35"/>
<text x="242.1" y="195.5" font-size="12" font-weight="bold" text-anchor="middle" stroke="#000" stroke-width="0.15">c</text>
<rect x="291.9" y="179.4" width="234.39999999999998" height="134.99999999999997" fill="none" stroke="#000" stroke-width="1.6"/>
<line x1="291.9" y1="314.40" x2="294.90" y2="314.40" stroke="#000" stroke-width="1.0"/>
<text x="289.30" y="316.85" font-size="7" font-weight="bold" text-anchor="end" fill="#000" stroke="#000" >20</text>
<line x1="291.9" y1="297.52" x2="293.70" y2="297.52" stroke="#000" stroke-width="1.0"/>
<line x1="291.9" y1="280.65" x2="294.90" y2="280.65" stroke="#000" stroke-width="1.0"/>
<text x="289.30" y="283.10" font-size="7" font-weight="bold" text-anchor="end" fill="#000" stroke="#000" >40</text>
<line x1="291.9" y1="263.77" x2="293.70" y2="263.77" stroke="#000" stroke-width="1.0"/>
<line x1="291.9" y1="246.90" x2="294.90" y2="246.90" stroke="#000" stroke-width="1.0"/>
<text x="289.30" y="249.35" font-size="7" font-weight="bold" text-anchor="end" fill="#000" stroke="#000" >60</text>
<line x1="291.9" y1="230.02" x2="293.70" y2="230.02" stroke="#000" stroke-width="1.0"/>
<line x1="291.9" y1="213.15" x2="294.90" y2="213.15" stroke="#000" stroke-width="1.0"/>
<text x="289.30" y="215.60" font-size="7" font-weight="bold" text-anchor="end" fill="#000" stroke="#000" >80</text>
<line x1="291.9" y1="196.28" x2="293.70" y2="196.28" stroke="#000" stroke-width="1.0"/>
<line x1="291.9" y1="179.40" x2="294.90" y2="179.40" stroke="#000" stroke-width="1.0"/>
<text x="289.30" y="181.85" font-size="7" font-weight="bold" text-anchor="end" fill="#000" stroke="#000" >100</text>
<line x1="526.3" y1="314.40" x2="523.30" y2="314.40" stroke="#000" stroke-width="1.0"/>
<text x="529.30" y="316.85" font-size="7" font-weight="bold" text-anchor="start" fill="#000" stroke="#000" stroke-width="0">20</text>
<line x1="526.3" y1="297.52" x2="524.50" y2="297.52" stroke="#000" stroke-width="1.0"/>
<line x1="526.3" y1="280.65" x2="523.30" y2="280.65" stroke="#000" stroke-width="1.0"/>
<text x="529.30" y="283.10" font-size="7" font-weight="bold" text-anchor="start" fill="#000" stroke="#000" stroke-width="0">40</text>
<line x1="526.3" y1="263.77" x2="524.50" y2="263.77" stroke="#000" stroke-width="1.0"/>
<line x1="526.3" y1="246.90" x2="523.30" y2="246.90" stroke="#000" stroke-width="1.0"/>
<text x="529.30" y="249.35" font-size="7" font-weight="bold" text-anchor="start" fill="#000" stroke="#000" stroke-width="0">60</text>
<line x1="526.3" y1="230.02" x2="524.50" y2="230.02" stroke="#000" stroke-width="1.0"/>
<line x1="526.3" y1="213.15" x2="523.30" y2="213.15" stroke="#000" stroke-width="1.0"/>
<text x="529.30" y="215.60" font-size="7" font-weight="bold" text-anchor="start" fill="#000" stroke="#000" stroke-width="0">80</text>
<line x1="526.3" y1="196.28" x2="524.50" y2="196.28" stroke="#000" stroke-width="1.0"/>
<line x1="526.3" y1="179.40" x2="523.30" y2="179.40" stroke="#000" stroke-width="1.0"/>
<text x="529.30" y="181.85" font-size="7" font-weight="bold" text-anchor="start" fill="#000" stroke="#000" stroke-width="0">100</text>
<line x1="307.53" y1="314.4" x2="307.53" y2="317.4" stroke="#000" stroke-width="1.0"/>
<text x="307.53" y="325" font-size="7" font-weight="bold" text-anchor="middle" fill="#000" stroke="#000" >1.50</text>
<line x1="323.15" y1="314.4" x2="323.15" y2="316.2" stroke="#000" stroke-width="1.0"/>
<line x1="338.78" y1="314.4" x2="338.78" y2="317.4" stroke="#000" stroke-width="1.0"/>
<text x="338.78" y="325" font-size="7" font-weight="bold" text-anchor="middle" fill="#000" stroke="#000" >1.55</text>
<line x1="354.41" y1="314.4" x2="354.41" y2="316.2" stroke="#000" stroke-width="1.0"/>
<line x1="370.03" y1="314.4" x2="370.03" y2="317.4" stroke="#000" stroke-width="1.0"/>
<text x="370.03" y="325" font-size="7" font-weight="bold" text-anchor="middle" fill="#000" stroke="#000" >1.60</text>
<line x1="385.66" y1="314.4" x2="385.66" y2="316.2" stroke="#000" stroke-width="1.0"/>
<line x1="401.29" y1="314.4" x2="401.29" y2="317.4" stroke="#000" stroke-width="1.0"/>
<text x="401.29" y="325" font-size="7" font-weight="bold" text-anchor="middle" fill="#000" stroke="#000" >1.65</text>
<line x1="416.91" y1="314.4" x2="416.91" y2="316.2" stroke="#000" stroke-width="1.0"/>
<line x1="432.54" y1="314.4" x2="432.54" y2="317.4" stroke="#000" stroke-width="1.0"/>
<text x="432.54" y="325" font-size="7" font-weight="bold" text-anchor="middle" fill="#000" stroke="#000" >1.70</text>
<line x1="448.17" y1="314.4" x2="448.17" y2="316.2" stroke="#000" stroke-width="1.0"/>
<line x1="463.79" y1="314.4" x2="463.79" y2="317.4" stroke="#000" stroke-width="1.0"/>
<text x="463.79" y="325" font-size="7" font-weight="bold" text-anchor="middle" fill="#000" stroke="#000" >1.75</text>
<line x1="479.42" y1="314.4" x2="479.42" y2="316.2" stroke="#000" stroke-width="1.0"/>
<line x1="495.05" y1="314.4" x2="495.05" y2="317.4" stroke="#000" stroke-width="1.0"/>
<text x="495.05" y="325" font-size="7" font-weight="bold" text-anchor="middle" fill="#000" stroke="#000" >1.80</text>
<line x1="510.67" y1="314.4" x2="510.67" y2="316.2" stroke="#000" stroke-width="1.0"/>
<line x1="526.30" y1="314.4" x2="526.30" y2="317.4" stroke="#000" stroke-width="1.0"/>
<text x="526.30" y="325" font-size="7" font-weight="bold" text-anchor="middle" fill="#000" stroke="#000" >1.85</text>
<text x="409.1" y="338.3" font-size="8.85" font-weight="bold" text-anchor="middle" fill="#000" stroke="#000" >Total acid amount (mmol / g)</text>
<text transform="translate(276.2,246.4) rotate(-90)" font-size="9" font-weight="bold" text-anchor="middle" fill="#2DC98A" stroke="#2DC98A">Selectivity of C<tspan font-size="6" dy="1.8">3</tspan><tspan dy="-1.8">&#8203;</tspan>H<tspan font-size="6" dy="1.8">6</tspan><tspan dy="-1.8">&#8203;</tspan> (%)</text>
<text transform="translate(545.6,244.8) rotate(-90)" font-size="8.75" font-weight="bold" text-anchor="middle" fill="#4AAEE8" stroke="#4AAEE8" stroke-width="0.1">Conversion of 1-butene (%)</text>
<path d="M502.00 186.20C498.40 188.18 498.40 193.22 502.00 195.20C500.10 193.22 500.10 188.18 502.00 186.20Z" fill="#1a1a1a" stroke="#1a1a1a" stroke-width="0.35"/>
<path d="M515.30 186.20C519.17 188.18 519.17 193.22 515.30 195.20C517.47 193.22 517.47 188.18 515.30 186.20Z" fill="#1a1a1a" stroke="#1a1a1a" stroke-width="0.35"/>
<text x="508.75" y="194.8" font-size="12" font-weight="bold" text-anchor="middle" stroke="#000" stroke-width="0.15">d</text>
<line x1="313.78" y1="247.07" x2="507.55" y2="275.08" stroke="#20C486" stroke-width="1.5"/>
<line x1="313.78" y1="271.54" x2="507.55" y2="208.09" stroke="#4CABEF" stroke-width="1.4"/>
<circle cx="313.78" cy="243.02" r="1.75" fill="#20C486"/>
<circle cx="332.53" cy="253.31" r="1.75" fill="#20C486"/>
<circle cx="463.79" cy="267.82" r="1.75" fill="#20C486"/>
<circle cx="470.04" cy="269.01" r="1.75" fill="#20C486"/>
<circle cx="507.55" cy="274.74" r="1.75" fill="#20C486"/>
<polygon points="313.78,274.14 314.52,275.92 316.44,276.07 314.98,277.33 315.42,279.20 313.78,278.20 312.13,279.20 312.58,277.33 311.11,276.07 313.04,275.92" fill="#4CABEF"/>
<polygon points="332.53,256.42 333.27,258.20 335.19,258.35 333.73,259.61 334.18,261.48 332.53,260.48 330.88,261.48 331.33,259.61 329.87,258.35 331.79,258.20" fill="#4CABEF"/>
<polygon points="463.79,219.97 464.53,221.75 466.46,221.90 464.99,223.16 465.44,225.03 463.79,224.03 462.15,225.03 462.60,223.16 461.13,221.90 463.05,221.75" fill="#4CABEF"/>
<polygon points="470.04,217.94 470.78,219.72 472.71,219.88 471.24,221.13 471.69,223.01 470.04,222.00 468.40,223.01 468.85,221.13 467.38,219.88 469.30,219.72" fill="#4CABEF"/>
<polygon points="507.55,205.29 508.29,207.07 510.21,207.22 508.75,208.48 509.19,210.35 507.55,209.35 505.90,210.35 506.35,208.48 504.89,207.22 506.81,207.07" fill="#4CABEF"/>
</svg></body></html>
